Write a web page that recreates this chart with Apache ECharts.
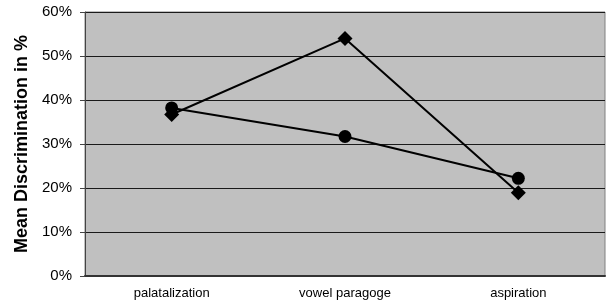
<!DOCTYPE html>
<html>
<head>
<meta charset="utf-8">
<script src="https://cdn.jsdelivr.net/npm/echarts@6/dist/echarts.min.js"></script>
<style>
  html, body { margin: 0; padding: 0; background: #fff; }
  #chart { width: 606px; height: 307px; }
</style>
</head>
<body>
<div id="chart"></div>
<script>
// 类别与数据
const categories = ['palatalization', 'vowel paragoge', 'aspiration'];
const circleValues = [38.2, 31.7, 22.2];
const diamondValues = [36.7, 54.0, 18.9];
const yTicks = [0, 10, 20, 30, 40, 50, 60];

const chart = echarts.init(document.getElementById('chart'));

const option = {
  animation: false,
  backgroundColor: '#ffffff',
  grid: { left: 85, right: 1, top: 12, bottom: 31, show: true, backgroundColor: '#c0c0c0', borderColor: '#808080', borderWidth: 1 },
  xAxis: {
    type: 'category',
    data: categories,
    boundaryGap: true,
    axisLine: { lineStyle: { color: '#333', width: 2 } },
    axisTick: { show: false },
    axisLabel: { color: '#000', fontFamily: 'Liberation Sans, Arial', fontSize: 13, margin: 11 }
  },
  yAxis: {
    type: 'value',
    min: yTicks[0],
    max: yTicks[yTicks.length - 1],
    interval: 10,
    name: 'Mean Discrimination in %',
    nameLocation: 'middle',
    nameGap: 52,
    nameTextStyle: { color: '#000', fontFamily: 'Liberation Sans, Arial', fontSize: 18, fontWeight: 'bold' },
    axisLine: { show: true, lineStyle: { color: '#444', width: 1 } },
    axisTick: { show: true, inside: false, length: 5, lineStyle: { color: '#444' } },
    axisLabel: { color: '#000', fontFamily: 'Liberation Sans, Arial', fontSize: 15, margin: 13, formatter: v => v + '%' },
    splitLine: { show: true, lineStyle: { color: '#1a1a1a', width: 1 } }
  },
  series: [
    {
      type: 'line',
      data: circleValues,
      symbol: 'circle',
      symbolSize: 13,
      lineStyle: { color: '#000', width: 2 },
      itemStyle: { color: '#000' }
    },
    {
      type: 'line',
      data: diamondValues,
      symbol: 'diamond',
      symbolSize: [15, 15],
      lineStyle: { color: '#000', width: 2 },
      itemStyle: { color: '#000' }
    }
  ]
};
chart.setOption(option);
</script>
</body>
</html>
